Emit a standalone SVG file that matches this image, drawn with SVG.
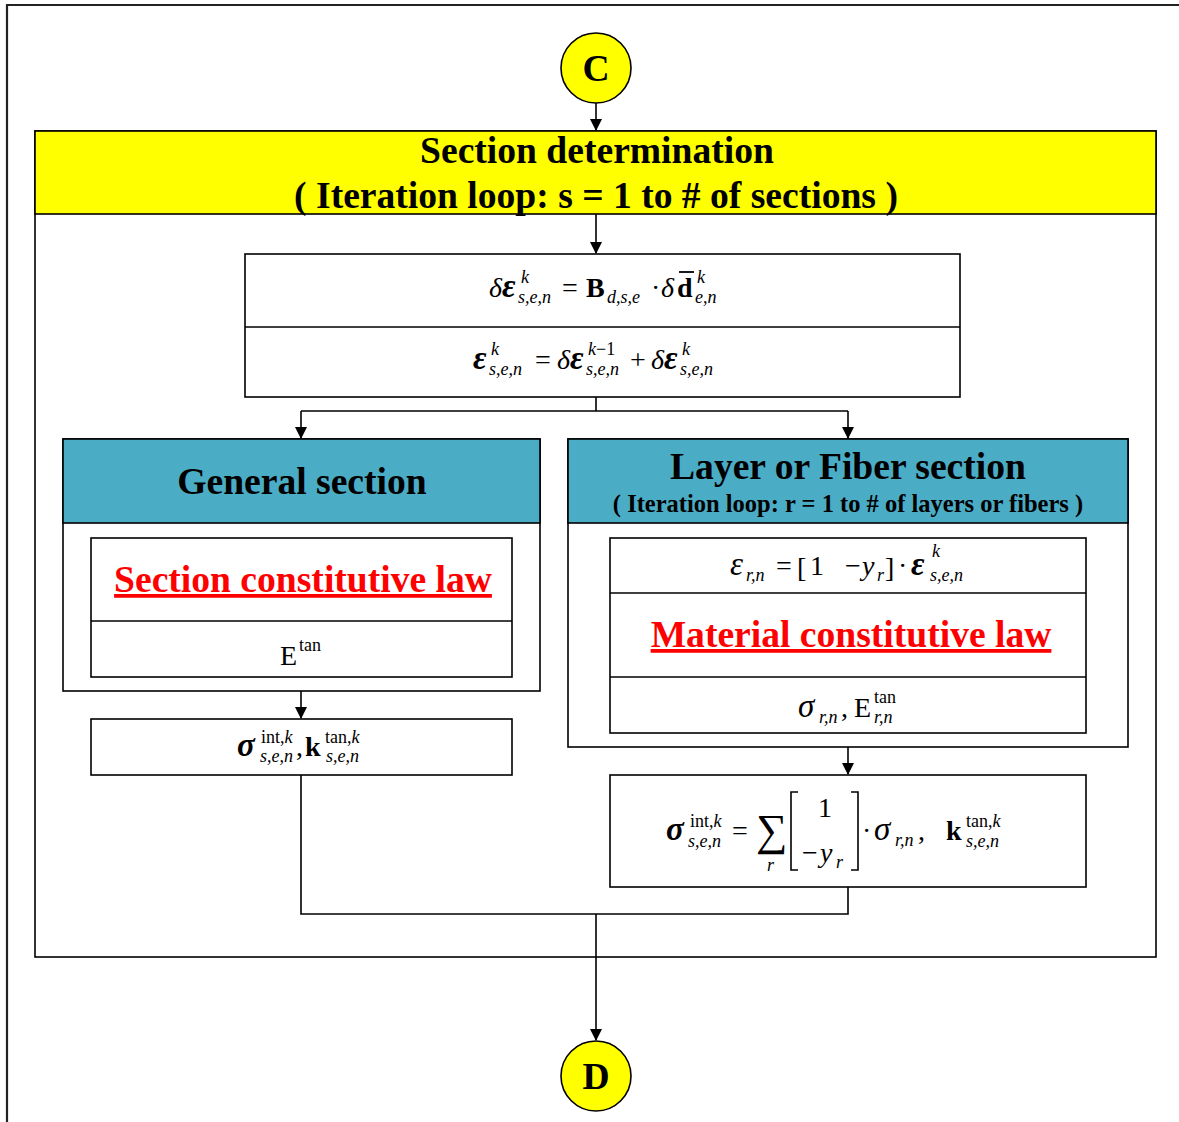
<svg xmlns="http://www.w3.org/2000/svg" width="1179" height="1122" viewBox="0 0 1179 1122">
<style>
  text { font-family: "Liberation Serif", "Times New Roman", serif; fill: #000; }
  .box { fill: #fff; stroke: #000; stroke-width: 1.6; }
  .yel { fill: #ffff00; stroke: #000; stroke-width: 1.6; }
  .teal { fill: #4bacc6; stroke: #000; stroke-width: 1.6; }
  .ln { fill: none; stroke: #000; stroke-width: 1.6; }
  .h1 { font-size: 37.6px; font-weight: bold; text-anchor: middle; }
  .h2 { font-size: 24.5px; font-weight: bold; text-anchor: middle; }
  .law { font-size: 37.6px; font-weight: bold; text-anchor: middle; fill: #ff0000; text-decoration: underline; }
  .m { font-size: 28px; }
  .g { font-size: 33px; }
  .it { font-style: italic; }
  .bi { font-style: italic; font-weight: bold; }
  .b { font-weight: bold; }
  .s { font-size: 18px; font-style: italic; }
  .sr { font-size: 18px; }
</style>
<defs>
  <marker id="arrow" markerWidth="12" markerHeight="14" refX="11" refY="6" orient="auto" markerUnits="userSpaceOnUse">
    <path d="M0,0 L12,6 L0,12 Z" fill="#000"/>
  </marker>
</defs>

<!-- page frame (open on the right and bottom) -->
<path d="M7,1122 V5 H1179" fill="none" stroke="#222" stroke-width="2.2"/>

<!-- section determination container -->
<g id="container">
  <rect class="box" x="35" y="131" width="1121" height="826"/>
</g>

<g id="header">
  <rect class="yel" x="35" y="131" width="1121" height="83"/>
  <text class="h1" x="597" y="163">Section determination</text>
  <text class="h1" x="596" y="208">( Iteration loop: s = 1 to # of sections )</text>
</g>

<g id="node-c">
  <circle class="yel" cx="596" cy="68" r="35"/>
  <text class="h1" x="596" y="81" font-size="40">C</text>
</g>

<g id="node-d">
  <circle class="yel" cx="596" cy="1076" r="35"/>
  <text class="h1" x="596" y="1089" font-size="40">D</text>
</g>

<!-- strain update -->
<g id="strain">
  <rect class="box" x="245" y="254" width="715" height="143"/>
  <line class="ln" x1="245" y1="327" x2="960" y2="327"/>
  <text class="m it" x="489" y="297">δ</text>
  <text class="g bi" x="502" y="297">ε</text>
  <text class="s" x="521" y="283">k</text>
  <text class="s" x="518" y="303">s,e,n</text>
  <text class="m" x="562" y="297">=</text>
  <text class="m b" x="586" y="297">B</text>
  <text class="s" x="607" y="303">d,s,e</text>
  <text class="m" x="651" y="297">·</text>
  <text class="m it" x="661" y="297">δ</text>
  <text class="m b" x="677" y="297">d</text>
  <line x1="679" y1="272" x2="694" y2="272" stroke="#000" stroke-width="1.8"/>
  <text class="s" x="697" y="283">k</text>
  <text class="s" x="695" y="303">e,n</text>

  <text class="g bi" x="473" y="369">ε</text>
  <text class="s" x="491" y="355">k</text>
  <text class="s" x="489" y="375">s,e,n</text>
  <text class="m" x="535" y="369">=</text>
  <text class="m it" x="557" y="369">δ</text>
  <text class="g bi" x="570" y="369">ε</text>
  <text class="s" x="588" y="355">k<tspan font-style="normal">−1</tspan></text>
  <text class="s" x="586" y="375">s,e,n</text>
  <text class="m" x="630" y="369">+</text>
  <text class="m it" x="651" y="369">δ</text>
  <text class="g bi" x="664" y="369">ε</text>
  <text class="s" x="682" y="355">k</text>
  <text class="s" x="680" y="375">s,e,n</text>
</g>

<!-- general section -->
<g id="general">
  <rect class="box" x="63" y="439" width="477" height="252"/>
  <rect class="teal" x="63" y="439" width="477" height="84"/>
  <text class="h1" x="302" y="494">General section</text>
  <rect class="box" x="91" y="538" width="421" height="139"/>
  <line class="ln" x1="91" y1="621" x2="512" y2="621"/>
  <text class="law" x="303" y="592">Section constitutive law</text>
  <text class="m" x="280" y="665">E</text>
  <text class="sr" x="299" y="651">tan</text>
</g>

<g id="general-result">
  <rect class="box" x="91" y="719" width="421" height="56"/>
  <text class="g bi" x="237" y="756">σ</text>
  <text class="sr" x="261" y="743">int,<tspan font-style="italic">k</tspan></text>
  <text class="s" x="260" y="762">s,e,n</text>
  <text class="m" x="296" y="756">,</text>
  <text class="m b" x="305" y="756">k</text>
  <text class="sr" x="325" y="743">tan,<tspan font-style="italic">k</tspan></text>
  <text class="s" x="326" y="762">s,e,n</text>
</g>

<!-- layer or fiber section -->
<g id="fiber">
  <rect class="box" x="568" y="439" width="560" height="308"/>
  <rect class="teal" x="568" y="439" width="560" height="84"/>
  <text class="h1" x="848" y="479">Layer or Fiber section</text>
  <text class="h2" x="848" y="512">( Iteration loop: r = 1 to # of layers or fibers )</text>
  <rect class="box" x="610" y="538" width="476" height="195"/>
  <line class="ln" x1="610" y1="593" x2="1086" y2="593"/>
  <line class="ln" x1="610" y1="677" x2="1086" y2="677"/>

  <text class="g it" x="730" y="575">ε</text>
  <text class="s" x="746" y="581">r,n</text>
  <text class="m" x="776" y="575">=</text>
  <text class="m" x="797" y="577" font-size="34">[</text>
  <text class="m" x="810" y="575">1</text>
  <text class="m" x="845" y="575">−</text>
  <text class="m it" x="862" y="575">y</text>
  <text class="s" x="877" y="581">r</text>
  <text class="m" x="885" y="577" font-size="34">]</text>
  <text class="m" x="898" y="575">·</text>
  <text class="g bi" x="911" y="575">ε</text>
  <text class="s" x="932" y="557">k</text>
  <text class="s" x="930" y="581">s,e,n</text>

  <text class="law" x="851" y="647">Material constitutive law</text>

  <text class="g it" x="798" y="717">σ</text>
  <text class="s" x="819" y="723">r,n</text>
  <text class="m" x="841" y="717">,</text>
  <text class="m" x="854" y="717">E</text>
  <text class="sr" x="874" y="703">tan</text>
  <text class="s" x="874" y="723">r,n</text>
</g>

<g id="fiber-result">
  <rect class="box" x="610" y="775" width="476" height="112"/>
  <text class="g bi" x="666" y="840">σ</text>
  <text class="sr" x="690" y="827">int,<tspan font-style="italic">k</tspan></text>
  <text class="s" x="688" y="847">s,e,n</text>
  <text class="m" x="732" y="840">=</text>
  <text x="756" y="845" font-size="44">∑</text>
  <text class="s" x="767" y="871">r</text>
  <path class="ln" d="M798,792 H791 V870 H798 M851,792 H858 V870 H851"/>
  <text class="m" x="818" y="817">1</text>
  <text class="m" x="802" y="862">−</text>
  <text class="m it" x="820" y="862">y</text>
  <text class="s" x="836" y="868">r</text>
  <text class="m" x="862" y="840">·</text>
  <text class="g it" x="874" y="840">σ</text>
  <text class="s" x="895" y="846">r,n</text>
  <text class="m" x="918" y="840">,</text>
  <text class="m b" x="946" y="840">k</text>
  <text class="sr" x="966" y="827">tan,<tspan font-style="italic">k</tspan></text>
  <text class="s" x="966" y="847">s,e,n</text>
</g>

<!-- connectors -->
<g id="connectors">
  <line class="ln" x1="596" y1="103" x2="596" y2="130" marker-end="url(#arrow)"/>
  <line class="ln" x1="596" y1="214" x2="596" y2="253" marker-end="url(#arrow)"/>
  <path class="ln" d="M596,397 V411 M301,411 H848"/>
  <line class="ln" x1="301" y1="411" x2="301" y2="438" marker-end="url(#arrow)"/>
  <line class="ln" x1="848" y1="411" x2="848" y2="438" marker-end="url(#arrow)"/>
  <line class="ln" x1="301" y1="691" x2="301" y2="718" marker-end="url(#arrow)"/>
  <line class="ln" x1="848" y1="747" x2="848" y2="774" marker-end="url(#arrow)"/>
  <path class="ln" d="M301,775 V914 H848 V887"/>
  <line class="ln" x1="596" y1="914" x2="596" y2="1040" marker-end="url(#arrow)"/>
</g>
</svg>
